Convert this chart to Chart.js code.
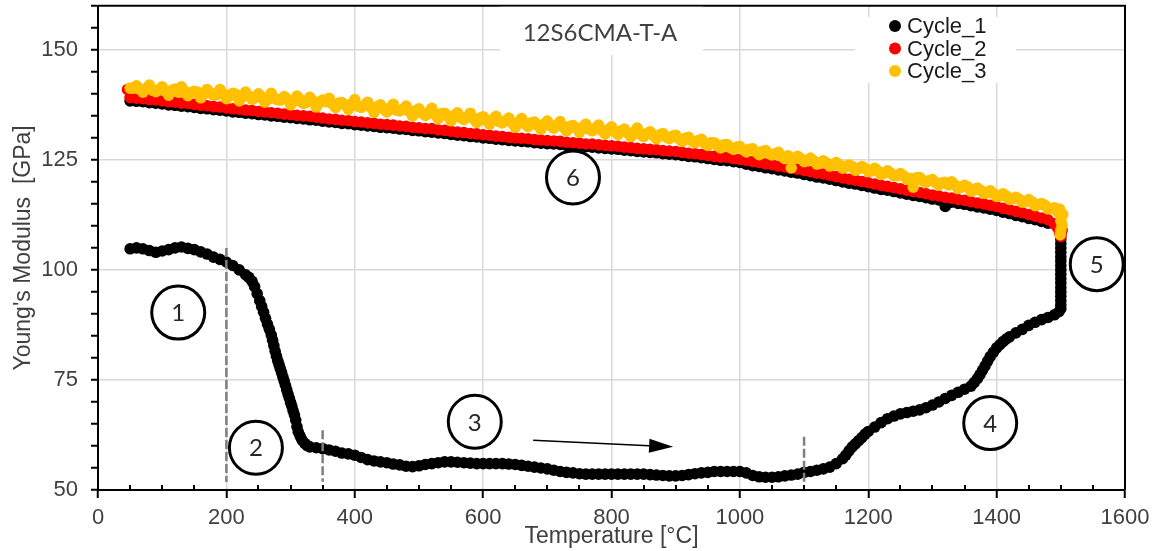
<!DOCTYPE html>
<html>
<head>
<meta charset="utf-8">
<title>12S6CMA-T-A</title>
<script src="https://cdn.jsdelivr.net/npm/chart.js@4.4.1/dist/chart.umd.min.js"></script>
<style>
    html, body { margin: 0; padding: 0; background: #ffffff; overflow: hidden; }
    canvas { display: block; }
</style>
</head>
<body>
<canvas id="youngChart" width="1157" height="551"></canvas>
<script>
"use strict";

// ---- data ----
var SERIES_NAMES = ["Cycle_1", "Cycle_2", "Cycle_3"];
var X_TICK_LABELS = [0, 200, 400, 600, 800, 1000, 1200, 1400, 1600];
var Y_TICK_LABELS = [50, 75, 100, 125, 150];

// heating run of cycle 1 (temperature, modulus)
var cycle1HeatTemp = [
    50, 60, 70, 80, 90, 100, 110, 120, 130, 140,
    150, 160, 170, 180, 190, 200, 210, 220, 230, 235,
    240, 244, 248, 252, 255, 258, 261, 264, 267, 270,
    272, 274, 276, 278, 280, 282, 284, 286, 288, 290,
    292, 294, 296, 298, 300, 302, 304, 306, 308, 310,
    312, 315, 318, 322, 326, 330, 340, 350, 360, 370,
    380, 390, 400, 410, 420, 430, 440, 450, 460, 470,
    480, 490, 500, 510, 520, 530, 540, 550, 560, 570,
    580, 590, 600, 610, 620, 630, 640, 650, 660, 670,
    680, 690, 700, 710, 720, 730, 740, 750, 760, 770,
    780, 790, 800, 810, 820, 830, 840, 850, 860, 870,
    880, 890, 900, 910, 920, 930, 940, 950, 960, 970,
    980, 990, 1000, 1010, 1020, 1030, 1040, 1050, 1060, 1070,
    1080, 1090, 1100, 1110, 1120, 1130, 1140, 1150, 1160, 1165,
    1170, 1175, 1180, 1185, 1190, 1195, 1200, 1210, 1220, 1230,
    1240, 1250, 1260, 1270, 1280, 1290, 1300, 1310, 1320, 1330,
    1340, 1350, 1360, 1365, 1370, 1374, 1378, 1382, 1386, 1390,
    1395, 1400, 1405, 1410, 1415, 1420, 1430, 1440, 1450, 1460,
    1470, 1480, 1490, 1497, 1500, 1500, 1500, 1500, 1500, 1500,
    1500, 1500, 1500, 1500, 1500, 1500, 1500, 1500, 1500, 1500,
    1500, 1500, 1500, 1500
];
var cycle1HeatE = [
    104.8, 105.0, 104.8, 104.4, 104.0, 104.3, 104.6, 105.0, 105.2, 104.9,
    104.6, 104.1, 103.6, 102.9, 102.4, 101.8, 101.0, 100.0, 98.9, 98.3,
    97.4, 96.2, 94.6, 93.0, 91.7, 90.4, 89.0, 87.7, 86.5, 85.2,
    84.0, 82.8, 81.5, 80.4, 79.4, 78.5, 77.6, 76.7, 75.7, 74.8,
    73.8, 72.8, 71.8, 70.9, 69.9, 69.0, 68.0, 67.1, 65.9, 64.4,
    63.2, 62.2, 61.3, 60.6, 60.1, 59.8, 59.6, 59.4, 59.1, 58.8,
    58.4, 58.2, 57.9, 57.4, 56.9, 56.6, 56.4, 56.2, 55.9, 55.7,
    55.4, 55.3, 55.5, 55.8, 56.0, 56.2, 56.4, 56.4, 56.3, 56.2,
    56.1, 56.0, 56.0, 56.0, 56.0, 56.0, 55.9, 55.8, 55.6, 55.4,
    55.2, 55.0, 54.8, 54.5, 54.2, 54.0, 53.9, 53.7, 53.6, 53.6,
    53.6, 53.6, 53.6, 53.6, 53.6, 53.6, 53.6, 53.6, 53.5, 53.4,
    53.3, 53.2, 53.2, 53.3, 53.5, 53.7, 53.9, 54.0, 54.2, 54.2,
    54.2, 54.2, 54.2, 53.9, 53.3, 53.0, 52.9, 52.9, 53.0, 53.2,
    53.4, 53.6, 54.0, 54.2, 54.5, 54.8, 55.2, 56.0, 57.1, 57.9,
    58.9, 59.8, 60.5, 61.2, 61.9, 62.7, 63.3, 64.3, 65.3, 66.2,
    66.8, 67.3, 67.6, 67.9, 68.2, 68.7, 69.3, 70.0, 70.8, 71.5,
    72.2, 72.9, 73.6, 74.4, 75.3, 76.2, 77.2, 78.2, 79.3, 80.3,
    81.3, 82.3, 83.0, 83.7, 84.3, 84.8, 85.7, 86.5, 87.4, 88.1,
    88.7, 89.2, 89.8, 90.5, 91.2, 92.0, 93.0, 94.0, 95.0, 96.0,
    97.0, 98.0, 99.0, 100.0, 101.0, 102.0, 103.0, 104.0, 105.0, 106.0,
    107.0, 108.0, 109.0, 110.0
];

// cooling runs share one temperature grid
var COOL_TEMP = [
    50, 60, 70, 80, 90, 100, 110, 120, 130, 140,
    150, 160, 170, 180, 190, 200, 210, 220, 230, 240,
    250, 260, 270, 280, 290, 300, 310, 320, 330, 340,
    350, 360, 370, 380, 390, 400, 410, 420, 430, 440,
    450, 460, 470, 480, 490, 500, 510, 520, 530, 540,
    550, 560, 570, 580, 590, 600, 610, 620, 630, 640,
    650, 660, 670, 680, 690, 700, 710, 720, 730, 740,
    750, 760, 770, 780, 790, 800, 810, 820, 830, 840,
    850, 860, 870, 880, 890, 900, 910, 920, 930, 940,
    950, 960, 970, 980, 990, 1000, 1010, 1020, 1030, 1040,
    1050, 1060, 1070, 1080, 1090, 1100, 1110, 1120, 1130, 1140,
    1150, 1160, 1170, 1180, 1190, 1200, 1210, 1220, 1230, 1240,
    1250, 1260, 1270, 1280, 1290, 1300, 1310, 1320, 1330, 1340,
    1350, 1360, 1370, 1380, 1390, 1400, 1410, 1420, 1430, 1440,
    1450, 1460, 1470, 1480, 1490, 1500
];
var cycle1CoolE = [
    138.4, 138.3, 138.2, 138.0, 137.9, 137.7, 137.5, 137.4, 137.2, 137.1,
    136.9, 136.7, 136.6, 136.4, 136.3, 136.1, 135.9, 135.8, 135.6, 135.5,
    135.3, 135.2, 135.0, 134.9, 134.7, 134.6, 134.4, 134.3, 134.1, 134.0,
    133.8, 133.6, 133.5, 133.3, 133.2, 133.0, 132.9, 132.7, 132.6, 132.4,
    132.3, 132.2, 132.0, 131.9, 131.7, 131.6, 131.4, 131.3, 131.1, 131.0,
    130.8, 130.6, 130.5, 130.3, 130.2, 130.0, 129.9, 129.7, 129.6, 129.4,
    129.3, 129.2, 129.1, 128.9, 128.8, 128.7, 128.6, 128.5, 128.3, 128.2,
    128.1, 128.0, 127.9, 127.7, 127.6, 127.5, 127.4, 127.2, 127.1, 126.9,
    126.8, 126.7, 126.6, 126.4, 126.3, 126.2, 126.0, 125.8, 125.7, 125.5,
    125.3, 125.1, 124.9, 124.8, 124.6, 124.4, 124.0, 123.7, 123.5, 123.2,
    123.0, 122.7, 122.5, 122.2, 122.0, 121.7, 121.4, 121.1, 120.9, 120.6,
    120.3, 120.0, 119.7, 119.5, 119.2, 118.9, 118.6, 118.3, 118.1, 117.8,
    117.5, 117.2, 116.9, 116.7, 116.4, 116.1, 115.9, 114.4, 115.4, 115.1,
    114.9, 114.6, 114.3, 114.1, 113.8, 113.5, 113.1, 112.8, 112.4, 112.1,
    111.7, 111.4, 111.0, 110.6, 110.5, 110.4
];
var cycle2CoolE = [
    139.2, 139.0, 138.9, 138.7, 138.6, 138.4, 138.2, 138.1, 137.9, 137.8,
    137.6, 137.4, 137.3, 137.1, 137.0, 136.8, 136.6, 136.5, 136.3, 136.2,
    136.0, 135.9, 135.7, 135.6, 135.4, 135.3, 135.1, 135.0, 134.9, 134.7,
    134.5, 134.3, 134.2, 134.0, 133.9, 133.7, 133.6, 133.4, 133.3, 133.1,
    133.0, 132.9, 132.7, 132.6, 132.4, 132.3, 132.1, 132.1, 131.8, 131.7,
    131.5, 131.3, 131.2, 131.0, 130.9, 130.7, 130.6, 130.4, 130.3, 130.1,
    130.0, 129.9, 129.8, 129.6, 129.5, 129.4, 129.3, 129.2, 129.0, 128.9,
    128.8, 128.6, 128.6, 128.4, 128.3, 128.2, 128.1, 127.9, 127.8, 127.6,
    127.5, 127.4, 127.3, 127.1, 127.0, 126.9, 126.7, 126.5, 126.4, 126.2,
    126.0, 125.8, 125.6, 125.6, 125.3, 125.1, 124.9, 124.6, 124.4, 124.1,
    123.9, 123.6, 123.4, 123.1, 122.9, 122.6, 122.3, 122.0, 121.8, 121.5,
    121.2, 120.9, 120.6, 120.4, 120.1, 119.8, 119.5, 119.2, 119.0, 118.7,
    118.4, 118.1, 117.8, 117.6, 117.3, 117.0, 116.8, 116.5, 116.3, 116.0,
    115.8, 115.5, 115.2, 115.0, 114.7, 114.4, 114.0, 113.7, 113.3, 113.0,
    112.6, 112.2, 111.8, 111.4, 110.4, 108.6
];
var cycle2EndTemp = [46, 1495, 1498, 1500, 1502];
var cycle2EndE = [141.0, 109.6, 108.3, 107.6, 109.0];
var cycle3CoolE = [
    141.3, 141.8, 140.4, 142.0, 140.5, 141.6, 139.7, 141.1, 141.6, 139.6,
    140.6, 139.1, 141.0, 139.7, 141.0, 138.9, 140.1, 138.4, 140.4, 138.8,
    140.0, 138.1, 140.1, 138.6, 139.4, 137.5, 139.5, 137.8, 139.2, 137.0,
    138.6, 139.0, 136.9, 138.0, 136.5, 138.7, 136.9, 138.1, 135.8, 137.5,
    135.9, 137.6, 136.1, 137.2, 135.0, 136.6, 135.1, 136.7, 134.4, 135.6,
    133.9, 135.7, 134.2, 135.6, 133.5, 134.8, 133.1, 134.9, 133.4, 134.5,
    132.4, 134.4, 132.6, 133.6, 132.0, 133.8, 132.2, 133.7, 131.6, 132.8,
    131.3, 133.1, 131.6, 132.9, 130.9, 132.5, 130.8, 132.0, 130.3, 132.2,
    130.3, 131.4, 129.8, 131.0, 129.8, 130.6, 129.2, 130.1, 128.9, 129.7,
    128.3, 128.9, 127.7, 128.5, 127.4, 128.0, 126.8, 127.5, 126.2, 127.1,
    126.1, 126.7, 125.3, 123.2, 125.8, 124.6, 125.4, 124.0, 124.8, 123.6,
    124.4, 123.1, 123.8, 122.6, 123.5, 122.4, 123.1, 121.7, 122.5, 121.4,
    121.9, 120.6, 118.8, 121.0, 119.9, 120.5, 119.3, 119.9, 120.0, 118.5,
    119.2, 117.9, 118.6, 117.4, 118.0, 116.7, 117.3, 116.0, 116.5, 115.4,
    116.0, 114.6, 115.1, 113.9, 114.1, 112.5
];
// cycle 3 readings between the grid steps (the dense core of the band)
var COOL_TEMP_MID = [
    55, 65, 75, 85, 95, 105, 115, 125, 135, 145,
    155, 165, 175, 185, 195, 205, 215, 225, 235, 245,
    255, 265, 275, 285, 295, 305, 315, 325, 335, 345,
    355, 365, 375, 385, 395, 405, 415, 425, 435, 445,
    455, 465, 475, 485, 495, 505, 515, 525, 535, 545,
    555, 565, 575, 585, 595, 605, 615, 625, 635, 645,
    655, 665, 675, 685, 695, 705, 715, 725, 735, 745,
    755, 765, 775, 785, 795, 805, 815, 825, 835, 845,
    855, 865, 875, 885, 895, 905, 915, 925, 935, 945,
    955, 965, 975, 985, 995, 1005, 1015, 1025, 1035, 1045,
    1055, 1065, 1075, 1085, 1095, 1105, 1115, 1125, 1135, 1145,
    1155, 1165, 1175, 1185, 1195, 1205, 1215, 1225, 1235, 1245,
    1255, 1265, 1275, 1285, 1295, 1305, 1315, 1325, 1335, 1345,
    1355, 1365, 1375, 1385, 1395, 1405, 1415, 1425, 1435, 1445,
    1455, 1465, 1475, 1485, 1495
];
var cycle3MidE = [
    141.3, 141.0, 141.2, 140.8, 141.0, 140.6, 140.8, 140.4, 140.6, 140.2,
    140.4, 140.0, 140.2, 139.8, 140.0, 139.6, 139.9, 139.3, 139.5, 139.1,
    139.3, 138.8, 139.0, 138.6, 138.8, 138.3, 138.7, 138.1, 138.4, 138.0,
    138.2, 137.7, 137.9, 137.5, 137.7, 137.2, 137.4, 136.9, 137.1, 136.6,
    136.8, 136.3, 136.5, 136.0, 136.2, 135.6, 135.8, 135.3, 135.5, 134.9,
    135.1, 134.6, 134.8, 134.3, 134.5, 134.0, 134.2, 133.7, 133.9, 133.4,
    133.6, 133.2, 133.4, 132.9, 133.1, 132.7, 132.9, 132.4, 132.6, 132.2,
    132.4, 132.0, 132.2, 131.7, 131.9, 131.4, 131.6, 131.1, 131.3, 130.8,
    131.0, 130.5, 130.7, 130.2, 130.4, 129.8, 129.9, 129.3, 129.4, 128.8,
    128.9, 128.3, 128.4, 127.8, 127.9, 127.3, 127.4, 126.8, 126.9, 126.4,
    126.4, 125.8, 125.9, 125.3, 125.3, 124.8, 124.8, 124.3, 124.3, 123.8,
    123.9, 123.4, 123.5, 123.0, 123.1, 122.5, 122.5, 122.0, 122.0, 121.4,
    121.4, 120.8, 120.9, 120.3, 120.3, 119.8, 119.8, 119.3, 119.3, 118.8,
    118.8, 118.1, 118.1, 117.5, 117.4, 116.8, 116.8, 116.2, 116.1, 115.5,
    115.5, 114.8, 114.7, 113.9, 113.2
];
var cycle3EndTemp = [1498, 1500, 1502, 1500, 1499, 1503];
var cycle3EndE = [113.8, 111.2, 110.2, 109.0, 108.0, 112.6];

// ---- annotations (data coordinates) ----
var STEP_LABELS = ["1", "2", "3", "4", "5", "6"];
var STEP_X = [125, 246, 587, 1390, 1556, 740];
var STEP_Y = [90.3, 59.6, 65.5, 65.2, 101.3, 121.0];
var DASH_X = [200, 350, 1100];
var DASH_TOP = [105.0, 63.6, 62.1];
var DASH_BOTTOM = [51.8, 51.9, 51.5];
var ARROW_FROM = [678, 61.3];
var ARROW_TO = [896, 59.8];

var SERIES_COLORS = ["#000000", "#ff0000", "#ffc000"];
var FONT = "'Liberation Sans', Arial, sans-serif";
var LABEL_FONT = "Lato, 'Open Sans', sans-serif";

function toPoints(temps, values)
{
    return temps.map(function(t, i)
    {
        return { x: t, y: values[i] };
    });
}

var overlayPlugin =
{
    id: "overlay",

    afterDatasetsDraw: function(chart)
    {
        var ctx = chart.ctx;
        var xs = chart.scales.x;
        var ys = chart.scales.y;
        var area = chart.chartArea;

        ctx.save();

        // minor ticks of the x axis point into the plot
        ctx.strokeStyle = "#000000";
        ctx.lineWidth = 2;
        xs.ticks.forEach(function(tick)
        {
            if (X_TICK_LABELS.indexOf(tick.value) < 0)
            {
                var px = Math.round(xs.getPixelForValue(tick.value));
                ctx.beginPath();
                ctx.moveTo(px, area.bottom);
                ctx.lineTo(px, area.bottom - 5);
                ctx.stroke();
            }
        });

        // frame on top and right
        ctx.beginPath();
        ctx.moveTo(area.left, area.top);
        ctx.lineTo(area.right, area.top);
        ctx.lineTo(area.right, area.bottom);
        ctx.stroke();

        // dashed markers
        ctx.strokeStyle = "#7f7f7f";
        ctx.lineWidth = 2.5;
        ctx.setLineDash([9, 3]);
        DASH_X.forEach(function(x, i)
        {
            var px = xs.getPixelForValue(x);
            ctx.beginPath();
            ctx.moveTo(px, ys.getPixelForValue(DASH_TOP[i]));
            ctx.lineTo(px, ys.getPixelForValue(DASH_BOTTOM[i]));
            ctx.stroke();
        });
        ctx.setLineDash([]);

        // arrow
        var x0 = xs.getPixelForValue(ARROW_FROM[0]);
        var y0 = ys.getPixelForValue(ARROW_FROM[1]);
        var x1 = xs.getPixelForValue(ARROW_TO[0]);
        var y1 = ys.getPixelForValue(ARROW_TO[1]);
        var ang = Math.atan2(y1 - y0, x1 - x0);
        var headLen = 24;
        var headHalf = 7;
        var bx = x1 - headLen * Math.cos(ang);
        var by = y1 - headLen * Math.sin(ang);
        ctx.strokeStyle = "#000000";
        ctx.fillStyle = "#000000";
        ctx.lineWidth = 1.5;
        ctx.beginPath();
        ctx.moveTo(x0, y0);
        ctx.lineTo(bx, by);
        ctx.stroke();
        ctx.beginPath();
        ctx.moveTo(x1, y1);
        ctx.lineTo(bx + headHalf * Math.sin(ang), by - headHalf * Math.cos(ang));
        ctx.lineTo(bx - headHalf * Math.sin(ang), by + headHalf * Math.cos(ang));
        ctx.closePath();
        ctx.fill();

        // numbered circles
        ctx.lineWidth = 3;
        ctx.font = "24px " + LABEL_FONT;
        ctx.textAlign = "center";
        ctx.textBaseline = "middle";
        STEP_LABELS.forEach(function(label, i)
        {
            var cx = xs.getPixelForValue(STEP_X[i]);
            var cy = ys.getPixelForValue(STEP_Y[i]);
            ctx.fillStyle = "#ffffff";
            ctx.beginPath();
            ctx.arc(cx, cy, 26.5, 0, Math.PI * 2);
            ctx.fill();
            ctx.stroke();
            ctx.fillStyle = "#262626";
            ctx.fillText(label, cx, cy + 1);
        });

        // chart title on a white box
        ctx.fillStyle = "#ffffff";
        ctx.fillRect(500, area.top + 1, 203, 48);
        ctx.fillStyle = "#404040";
        ctx.font = "24px " + LABEL_FONT;
        ctx.fillText("12S6CMA-T-A", 600, 33);

        // legend on a white box
        ctx.fillStyle = "#ffffff";
        ctx.fillRect(855, 17, 161, 66);
        ctx.font = "22px " + FONT;
        ctx.textAlign = "left";
        SERIES_NAMES.forEach(function(name, i)
        {
            var ly = 26 + i * 22.5;
            ctx.fillStyle = SERIES_COLORS[i];
            ctx.beginPath();
            ctx.arc(895, ly, 6, 0, Math.PI * 2);
            ctx.fill();
            ctx.fillStyle = "#1a1a1a";
            ctx.fillText(name, 907, ly + 1);
        });

        ctx.restore();
    }
};

Chart.defaults.font.family = FONT;
Chart.defaults.font.size = 22;
Chart.defaults.color = "#404040";

var chart = new Chart(document.getElementById("youngChart").getContext("2d"),
{
    type: "scatter",
    data:
    {
        datasets: [
            {
                label: SERIES_NAMES[0],
                data: toPoints(cycle1HeatTemp, cycle1HeatE).concat(toPoints(COOL_TEMP, cycle1CoolE)),
                backgroundColor: SERIES_COLORS[0],
                order: 3
            },
            {
                label: SERIES_NAMES[1],
                data: toPoints(COOL_TEMP, cycle2CoolE).concat(toPoints(cycle2EndTemp, cycle2EndE)),
                backgroundColor: SERIES_COLORS[1],
                order: 2
            },
            {
                label: SERIES_NAMES[2],
                data: toPoints(COOL_TEMP, cycle3CoolE)
                    .concat(toPoints(COOL_TEMP_MID, cycle3MidE))
                    .concat(toPoints(cycle3EndTemp, cycle3EndE)),
                backgroundColor: SERIES_COLORS[2],
                order: 1
            }
        ]
    },
    options:
    {
        responsive: false,
        animation: false,
        devicePixelRatio: 1,
        events: [],
        elements:
        {
            point: { radius: 5.8, borderWidth: 0, hoverRadius: 5.8 }
        },
        layout:
        {
            padding: { top: 5, right: 32, left: 0, bottom: 0 }
        },
        plugins:
        {
            legend: { display: false },
            tooltip: { enabled: false }
        },
        scales:
        {
            x:
            {
                type: "linear",
                min: 0,
                max: 1600,
                afterFit: function(scale)
                {
                    scale.height = 61;
                    scale.paddingLeft = 0;
                    scale.paddingRight = 0;
                },
                ticks:
                {
                    stepSize: 50,
                    maxTicksLimit: 100,
                    autoSkip: false,
                    maxRotation: 0,
                    padding: 7,
                    color: "#404040",
                    callback: function(v)
                    {
                        return X_TICK_LABELS.indexOf(v) >= 0 ? String(v) : "";
                    }
                },
                grid:
                {
                    lineWidth: 1.5,
                    tickLength: 8,
                    tickWidth: 2,
                    color: function(c)
                    {
                        return c.tick && X_TICK_LABELS.indexOf(c.tick.value) >= 0 ? "#d9d9d9" : "rgba(0,0,0,0)";
                    },
                    tickColor: function(c)
                    {
                        return c.tick && X_TICK_LABELS.indexOf(c.tick.value) >= 0 ? "#000000" : "rgba(0,0,0,0)";
                    }
                },
                border: { color: "#000000", width: 2 },
                title:
                {
                    display: true,
                    text: "Temperature [°C]",
                    color: "#404040",
                    font: { size: 23 },
                    padding: { top: 0, bottom: 1 }
                }
            },
            y:
            {
                type: "linear",
                min: 50,
                max: 160,
                afterFit: function(scale)
                {
                    scale.width = 98;
                    scale.paddingTop = 0;
                    scale.paddingBottom = 0;
                },
                ticks:
                {
                    stepSize: 5,
                    maxTicksLimit: 100,
                    autoSkip: false,
                    padding: 13,
                    color: "#404040",
                    callback: function(v)
                    {
                        return Y_TICK_LABELS.indexOf(v) >= 0 ? String(v) : "";
                    }
                },
                grid:
                {
                    lineWidth: 1.5,
                    tickLength: 7,
                    tickWidth: 2,
                    color: function(c)
                    {
                        return c.tick && Y_TICK_LABELS.indexOf(c.tick.value) >= 0 ? "#d9d9d9" : "rgba(0,0,0,0)";
                    },
                    tickColor: "#000000"
                },
                border: { color: "#000000", width: 2 },
                title:
                {
                    display: true,
                    text: "Young's Modulus  [GPa]",
                    color: "#404040",
                    font: { size: 23 },
                    padding: { top: 10, bottom: 0 }
                }
            }
        }
    },
    plugins: [overlayPlugin]
});
</script>
</body>
</html>
